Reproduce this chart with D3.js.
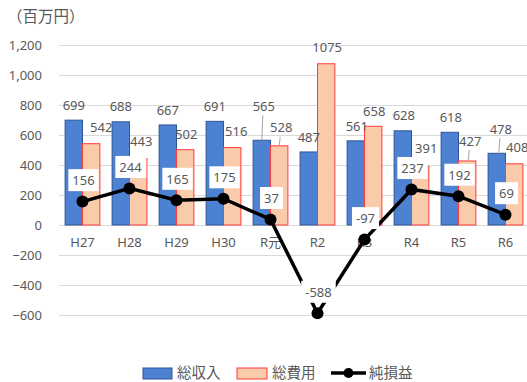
<!DOCTYPE html>
<html>
<head>
<meta charset="utf-8">
<script src="https://cdn.jsdelivr.net/npm/d3@7"></script>
<style>
  html, body { margin: 0; padding: 0; background: #fff; }
  svg { display: block; font-family: "Noto Sans CJK JP", "Noto Sans", sans-serif; }
</style>
</head>
<body>
<svg id="chart" width="527" height="382"></svg>
<script>
// Fiscal years
const years = ["H27", "H28", "H29", "H30", "R元", "R2", "R3", "R4", "R5", "R6"];
// 総収入 (million yen)
const income = [699, 688, 667, 691, 565, 487, 561, 628, 618, 478];
// 総費用 (million yen)
const expense = [542, 443, 502, 516, 528, 1075, 658, 391, 427, 408];
// 純損益 (million yen)
const netResult = [156, 244, 165, 175, 37, -588, -97, 237, 192, 69];
// Value axis ticks
const yTicks = [-600, -400, -200, 0, 200, 400, 600, 800, 1000, 1200];
const seriesNames = ["総収入", "総費用", "純損益"];

// Manual label nudges (dx, dy from default position above the bar top)
const incomeNudge = [[0,0],[0,0],[0,0],[0,0],[2,-19],[0,0],[1,1],[1,0],[1,0],[4,-9]];
const expenseNudge = [[10,-1],[3,-2],[1,0],[4,-1],[2,-3],[1,-1],[1,0],[6,-3],[3,-5],[3,-1]];
const leaderIncome = [false,false,false,false,true,false,false,false,false,true];
const leaderExpense = [false,false,false,false,true,false,false,false,true,false];

const svg = d3.select("#chart");
const textColor = "#595959";

const x = d3.scaleBand().domain(years).range([59, 529]).paddingInner(0.26).paddingOuter(0.13);
const x1 = d3.scaleBand().domain(["inc", "exp"]).range([0, x.bandwidth()]);
const y = d3.scaleLinear().domain([-600, 1200]).range([315, 45]);

// Unit label
svg.append("text").attr("x", 7).attr("y", 17).attr("dy", "0.35em").attr("font-size", 15.5)
  .attr("fill", textColor).text("（百万円）");

// Gridlines and y labels
const yAxis = d3.axisLeft(y).tickValues(yTicks).tickSize(-470).tickFormat(d3.format(","));
const gy = svg.append("g").attr("transform", "translate(59,0)").call(yAxis);
gy.select(".domain").remove();
gy.selectAll(".tick line").attr("stroke", "#d9d9d9").attr("stroke-width", 1.2);
gy.selectAll(".tick text").attr("x", -17).attr("fill", textColor).attr("font-size", 13)
  .attr("font-family", "Noto Sans, sans-serif");

// Category labels under the zero line
const gx = svg.append("g").attr("transform", `translate(0,${y(0)})`)
  .call(d3.axisBottom(x).tickSize(0).tickPadding(13));
gx.select(".domain").remove();
gx.selectAll(".tick text").attr("fill", textColor).attr("font-size", 13)
  .attr("font-family", "Noto Sans, Noto Sans CJK JP, sans-serif");

// Bars
const barG = svg.append("g");
barG.selectAll("rect.inc").data(income).join("rect")
  .attr("x", (d, i) => x(years[i]) + x1("inc"))
  .attr("y", d => y(d)).attr("width", x1.bandwidth()).attr("height", d => y(0) - y(d))
  .attr("fill", "#4d82d2").attr("stroke", "#2f5597").attr("stroke-width", 1);
barG.selectAll("rect.exp").data(expense).join("rect")
  .attr("x", (d, i) => x(years[i]) + x1("exp"))
  .attr("y", d => y(d)).attr("width", x1.bandwidth()).attr("height", d => y(0) - y(d))
  .attr("fill", "#f9cbaa").attr("stroke", "#ff3b3b").attr("stroke-width", 1);

// Bar value labels with occasional leader lines
function barLabels(values, key, nudge, leader) {
  values.forEach((v, i) => {
    const cx = x(years[i]) + x1(key) + x1.bandwidth() / 2;
    const top = y(v);
    const lx = cx + nudge[i][0];
    const ly = top - 15 + nudge[i][1];
    if (leader[i]) {
      svg.append("line").attr("x1", lx - 1).attr("y1", ly + 9).attr("x2", lx - 2).attr("y2", top)
        .attr("stroke", "#a6a6a6").attr("stroke-width", 1);
    }
    svg.append("text").attr("x", lx).attr("y", ly).attr("dy", "0.35em")
      .attr("text-anchor", "middle").attr("font-size", 13).attr("fill", textColor)
      .attr("font-family", "Noto Sans, sans-serif").text(v);
  });
}
barLabels(income, "inc", incomeNudge, leaderIncome);
barLabels(expense, "exp", expenseNudge, leaderExpense);

// Net result line
const cxOf = i => x(years[i]) + x.bandwidth() / 2;
svg.append("path").datum(netResult)
  .attr("d", d3.line().x((d, i) => cxOf(i)).y(d => y(d)))
  .attr("fill", "none").attr("stroke", "#000").attr("stroke-width", 3.5);
svg.selectAll("circle.net").data(netResult).join("circle")
  .attr("cx", (d, i) => cxOf(i)).attr("cy", d => y(d)).attr("r", 6).attr("fill", "#000");

// Net result labels in white boxes
netResult.forEach((v, i) => {
  const lx = cxOf(i) + 1, ly = y(v) - 21;
  const t = svg.append("text").attr("x", lx).attr("y", ly).attr("dy", "0.35em")
    .attr("text-anchor", "middle").attr("font-size", 13).attr("fill", textColor)
    .attr("font-family", "Noto Sans, sans-serif").text(v);
  const bb = t.node().getBBox();
  svg.insert("rect", () => t.node())
    .attr("x", bb.x - 4).attr("y", bb.y - 2).attr("width", bb.width + 8).attr("height", bb.height + 4)
    .attr("fill", "#fff");
});

// Legend
const lg = svg.append("g");
const legY = 373;
lg.append("rect").attr("x", 143).attr("y", legY - 5).attr("width", 29).attr("height", 11)
  .attr("fill", "#4d82d2").attr("stroke", "#2f5597");
lg.append("text").attr("x", 177).attr("y", legY).attr("dy", "0.35em").attr("font-size", 14.5)
  .attr("fill", textColor).text(seriesNames[0]);
lg.append("rect").attr("x", 237).attr("y", legY - 5).attr("width", 30).attr("height", 11)
  .attr("fill", "#f9cbaa").attr("stroke", "#ff3b3b");
lg.append("text").attr("x", 272).attr("y", legY).attr("dy", "0.35em").attr("font-size", 14.5)
  .attr("fill", textColor).text(seriesNames[1]);
lg.append("line").attr("x1", 331).attr("x2", 366).attr("y1", legY).attr("y2", legY)
  .attr("stroke", "#000").attr("stroke-width", 3.5);
lg.append("circle").attr("cx", 348.5).attr("cy", legY).attr("r", 5).attr("fill", "#000");
lg.append("text").attr("x", 369).attr("y", legY).attr("dy", "0.35em").attr("font-size", 14.5)
  .attr("fill", textColor).text(seriesNames[2]);
</script>
</body>
</html>
